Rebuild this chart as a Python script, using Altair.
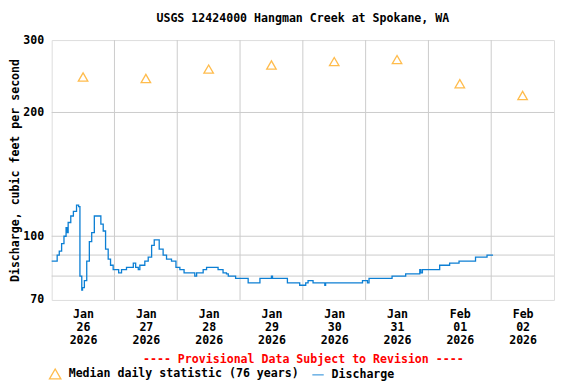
import altair as alt
import pandas as pd

MONO = "DejaVu Sans Mono"
FS = 11.6
ORANGE = "#ffa000"
BLUE = "#0c7fd4"

TITLE = "USGS 12424000 Hangman Creek at Spokane, WA"
Y_TITLE = "Discharge, cubic feet per second"
X_TITLE = "---- Provisional Data Subject to Revision ----"
MED_LABEL = "Median daily statistic (76 years)"
DIS_LABEL = "Discharge"

# Discharge (hours since 2026-01-26 00:00, cfs)
dis_hours = [0, 1.9, 2.1, 2.9, 3.8, 4.7, 5.5, 5.9, 6.3, 7.3, 8.3, 9.5, 10.3, 10.8, 11.5, 11.8,
             12.5, 13.4, 14.4, 15.3, 16.3, 18.0, 18.8, 19.7, 20.6, 21.6, 22.5, 23.5, 25.1, 25.6,
             26.7, 28.6, 30.6, 31.2, 32.1, 33.1, 33.7, 35.6, 36.9, 38.2, 39.2, 40.1, 41.1, 42.6,
             43.9, 45.8, 47.5, 49.0, 50.3, 50.6, 54.1, 54.7, 55.4, 57.0, 57.9, 59.2, 63.0, 63.6,
             64.9, 65.5, 66.8, 67.5, 70.0, 70.3, 74.5, 75.1, 79.3, 79.6, 83.8, 84.0, 84.4, 89.7,
             90.1, 94.6, 94.8, 96.8, 97.1, 98.0, 99.5, 99.9, 104.1, 104.4, 104.7, 118.4, 118.8,
             120.3, 120.7, 121.3, 129.6, 130.1, 135.0, 135.3, 140.0, 140.7, 141.1, 141.7, 148.1,
             148.3, 151.9, 152.1, 155.3, 155.7, 161.7, 162.0, 165.9, 166.4, 168.7]
dis_values = [87, 87, 90, 92, 96, 100, 105, 102, 108, 112, 115, 119, 118, 80, 74, 75,
              78, 87, 97, 102, 112, 112, 107, 103, 93, 88, 85, 83, 83, 81.5,
              83, 84, 84, 86, 84, 83, 85, 87, 89, 95, 98, 98, 93, 90,
              88, 87, 84, 83, 83, 81.5, 81.5, 80, 81.5, 81.5, 83, 84, 84, 83,
              83, 81.5, 81, 80, 80, 79, 79, 77, 77, 79, 79, 80, 79, 79,
              77, 77, 76, 76, 77, 78, 78, 77, 77, 76, 77, 77, 78,
              78, 77, 79, 79, 80, 80, 81, 81, 83, 81.5, 83, 83,
              85, 85, 86, 86, 87, 87, 89, 89, 90, 90]

# Median daily statistic (at noon of each day)
med_days = ["2026-01-26", "2026-01-27", "2026-01-28", "2026-01-29",
            "2026-01-30", "2026-01-31", "2026-02-01", "2026-02-02"]
med_values = [244, 242, 255, 261, 266, 269, 235, 220]

# Grid positions
grid_days = ["2026-01-27", "2026-01-28", "2026-01-29", "2026-01-30",
             "2026-01-31", "2026-02-01", "2026-02-02"]
grid_cfs = [80, 90, 100, 200]
y_ticks = [70, 100, 200, 300]

base = pd.Timestamp("2026-01-26 00:00")
dis_df = pd.DataFrame({
    "time": [(base + pd.Timedelta(hours=h)).strftime("%Y-%m-%dT%H:%M:%S") for h in dis_hours],
    "cfs": dis_values,
    "series": DIS_LABEL,
})
med_df = pd.DataFrame({
    "time": [d + "T12:00:00" for d in med_days],
    "cfs": med_values,
    "series": MED_LABEL,
})
gx_df = pd.DataFrame({"time": [d + "T00:00:00" for d in grid_days]})
gy_df = pd.DataFrame({"cfs": grid_cfs})

x_domain = [alt.DateTime(year=2026, month=1, date=26, hours=0),
            alt.DateTime(year=2026, month=2, date=3, hours=0)]
x_tick_vals = [alt.DateTime(year=int(d[:4]), month=int(d[5:7]), date=int(d[8:]), hours=12)
               for d in med_days]

x_scale = alt.Scale(domain=x_domain, nice=False)
y_scale = alt.Scale(type="log", domain=[70, 300], nice=False)

x_axis = alt.Axis(
    values=x_tick_vals,
    labelExpr="[timeFormat(datum.value, '%b'), timeFormat(datum.value, '%d'), timeFormat(datum.value, '%Y')]",
    grid=False, ticks=False, domain=False,
    labelFont=MONO, labelFontSize=FS, labelFontWeight="bold", labelColor="black",
    labelLineHeight=13, labelPadding=9, labelAngle=0,
    title=X_TITLE, titleFont=MONO, titleFontSize=FS, titleFontWeight="bold",
    titleColor="#ff0000", titlePadding=7,
)
y_axis = alt.Axis(
    values=y_ticks, grid=False, ticks=False, domain=False,
    labelFont=MONO, labelFontSize=FS, labelFontWeight="bold", labelColor="black",
    labelPadding=8,
    title=Y_TITLE, titleFont=MONO, titleFontSize=FS, titleFontWeight="bold",
    titleColor="black", titlePadding=2.5,
)

color_scale = alt.Scale(domain=[MED_LABEL, DIS_LABEL], range=[ORANGE, BLUE])
shape_scale = alt.Scale(domain=[MED_LABEL, DIS_LABEL], range=["triangle-up", "stroke"])
legend = alt.Legend(
    title=None, orient="none", legendX=-3, legendY=327, direction="horizontal",
    labelFont=MONO, labelFontSize=FS, labelFontWeight="bold", labelColor="black",
    labelLimit=0,
    symbolSize=130, symbolStrokeWidth=1.3, columnPadding=10, labelOffset=7,
    symbolFillColor="transparent",
)

grid_x = alt.Chart(gx_df).mark_rule(color="#cccccc", strokeWidth=1).encode(
    x=alt.X("time:T", scale=x_scale, axis=x_axis)
)
grid_y = alt.Chart(gy_df).mark_rule(color="#cccccc", strokeWidth=1).encode(
    y=alt.Y("cfs:Q", scale=y_scale, axis=y_axis)
)
line = alt.Chart(dis_df).mark_line(strokeWidth=1.3, interpolate="step-after").encode(
    x=alt.X("time:T", scale=x_scale, axis=x_axis),
    y=alt.Y("cfs:Q", scale=y_scale, axis=y_axis),
    color=alt.Color("series:N", scale=color_scale, legend=legend),
)
tri = alt.Chart(med_df).mark_point(filled=False, size=90, strokeWidth=1.3).encode(
    x=alt.X("time:T", scale=x_scale, axis=x_axis),
    y=alt.Y("cfs:Q", scale=y_scale, axis=y_axis),
    color=alt.Color("series:N", scale=color_scale, legend=legend),
    shape=alt.Shape("series:N", scale=shape_scale, legend=legend),
)

chart = alt.layer(grid_x, grid_y, line, tri).properties(
    width=502.6, height=260,
    title=alt.TitleParams(TITLE, font=MONO, fontSize=FS, fontWeight="bold",
                          color="black", anchor="middle", offset=9),
    padding={"left": 43.7, "top": 32, "right": 14, "bottom": 82},
    autosize=alt.AutoSizeParams(type="none"),
).configure_view(stroke="black", strokeWidth=1.2).configure(background="white")

chart.save("out.html", embed_options={"renderer": "svg", "actions": False})
